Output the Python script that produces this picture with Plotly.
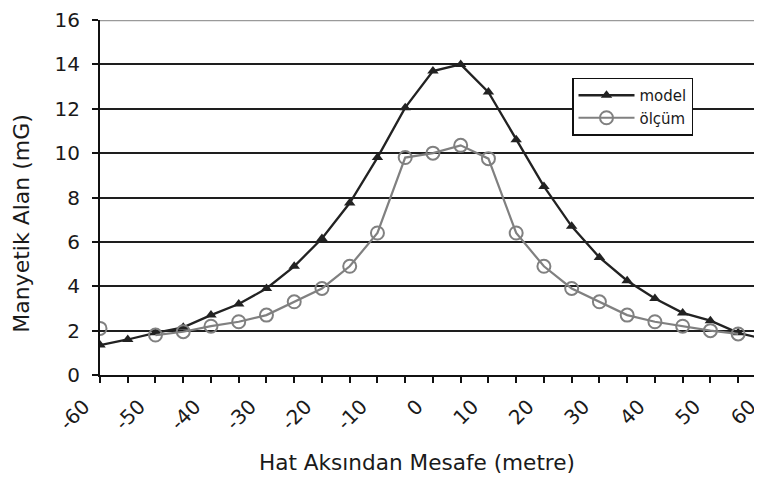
import plotly.graph_objects as go

# Distance from line axis (metre)
distance = [-55, -50, -45, -40, -35, -30, -25, -20, -15, -10, -5, 0, 5,
            10, 15, 20, 25, 30, 35, 40, 45, 50, 55, 60, 65]
# Magnetic field (mG)
model = [1.35, 1.6, 1.9, 2.15, 2.7, 3.2, 3.9, 4.9, 6.15, 7.75, 9.8, 12.05, 13.7,
         14.0, 12.75, 10.6, 8.5, 6.7, 5.3, 4.25, 3.45, 2.8, 2.45, 1.9, 1.6]
olcum = [2.1, None, 1.8, 1.95, 2.2, 2.4, 2.7, 3.3, 3.9, 4.9, 6.4, 9.8, 10.0,
         10.35, 9.75, 6.4, 4.9, 3.9, 3.3, 2.7, 2.4, 2.2, 2.0, 1.85, None]

x_ticklabels = [-60, -50, -40, -30, -20, -10, 0, 10, 20, 30, 40, 50, 60]
y_ticks = [0, 2, 4, 6, 8, 10, 12, 14, 16]

FONT = "DejaVu Sans"
PAGE_OFFSET = 8  # default body margin of the html page
W, H = 762 - PAGE_OFFSET, 482 - PAGE_OFFSET
ML, MR, MT = 72 - PAGE_OFFSET, 0, 17 - PAGE_OFFSET
MB = H - (375 - PAGE_OFFSET)
AXIS_LEFT_PX = 100 - PAGE_OFFSET
x_min_main, x_max = -55, 64.3
x_min_lbl = -60

fig = go.Figure()
fig.add_trace(go.Scatter(
    x=distance, y=model, name="model", mode="lines+markers",
    line=dict(color="#222222", width=2.3),
    marker=dict(symbol="triangle-up", size=10, color="#222222"),
))
fig.add_trace(go.Scatter(
    x=distance, y=olcum, name="ölçüm", mode="lines+markers",
    connectgaps=False,
    line=dict(color="#808080", width=2.2),
    marker=dict(symbol="circle-open", size=13, color="#808080",
                line=dict(width=2, color="#808080")),
))
# empty trace that only creates the label axis subplot
fig.add_trace(go.Scatter(x=[], y=[], xaxis="x2", yaxis="y2",
                         showlegend=False, hoverinfo="skip"))

plot_w = W - ML - MR
plot_h = H - MT - MB
dom0 = (AXIS_LEFT_PX - ML) / plot_w

fig.update_layout(
    width=W, height=H,
    margin=dict(l=ML, r=MR, t=MT, b=MB),
    paper_bgcolor="white", plot_bgcolor="rgba(0,0,0,0)",
    font=dict(family=FONT, size=20, color="#1a1a1a"),
    showlegend=True,
    legend=dict(
        x=(572 - PAGE_OFFSET - ML) / plot_w, y=(375 - 75) / plot_h,
        xanchor="left", yanchor="top",
        bgcolor="white", bordercolor="#111111", borderwidth=1.5,
        font=dict(family=FONT, size=15, color="#1a1a1a"),
        itemwidth=56,
    ),
    xaxis=dict(
        domain=[dom0, 1], range=[x_min_main, x_max],
        showticklabels=False, showgrid=False, zeroline=False,
        showline=True, linecolor="#111111", linewidth=2,
        ticks="outside", tickmode="linear", tick0=0, dtick=5,
        ticklen=6, tickwidth=1.5, tickcolor="#111111",
    ),
    xaxis2=dict(
        domain=[0, 1], range=[x_min_lbl, x_max], anchor="y2",
        tickmode="array", tickvals=x_ticklabels,
        ticktext=[str(v) for v in x_ticklabels],
        tickangle=-45, ticks="", showgrid=False, zeroline=False, showline=False,
        tickfont=dict(family=FONT, size=20, color="#1a1a1a"),
        ticklabelshift=12, ticklabelstandoff=15,
        ticklabeloverflow="allow",
        title=dict(text="Hat Aksından Mesafe (metre)",
                   font=dict(family=FONT, size=21.6, color="#1a1a1a"),
                   standoff=21),
    ),
    yaxis=dict(
        range=[0, 16], tickmode="array", tickvals=y_ticks,
        showgrid=True, gridcolor="#1e1e1e", gridwidth=1.6,
        zeroline=False, showline=True, linecolor="#111111", linewidth=2,
        ticks="outside", ticklen=6, tickwidth=1.5, tickcolor="#111111",
        tickfont=dict(family=FONT, size=20, color="#1a1a1a"),
        ticklabelstandoff=8, ticklabeloverflow="allow",
    ),
    yaxis2=dict(domain=[0, 1], range=[0, 16], showgrid=False, zeroline=False,
                showticklabels=False, showline=False, ticks=""),
    annotations=[dict(
        text="Manyetik Alan (mG)", textangle=-90, showarrow=False,
        xref="paper", yref="paper",
        x=(21.5 - PAGE_OFFSET - ML) / plot_w,
        y=((375 - PAGE_OFFSET) - (222 - PAGE_OFFSET)) / plot_h,
        xanchor="center", yanchor="middle",
        font=dict(family=FONT, size=22, color="#1a1a1a"),
    )],
    shapes=[dict(type="line", xref="x domain", yref="y", x0=0, x1=1,
                 y0=y_ticks[-1], y1=y_ticks[-1],
                 line=dict(color="#9a9a9a", width=2.5), layer="above")],
)

fig.write_html("out.html")
